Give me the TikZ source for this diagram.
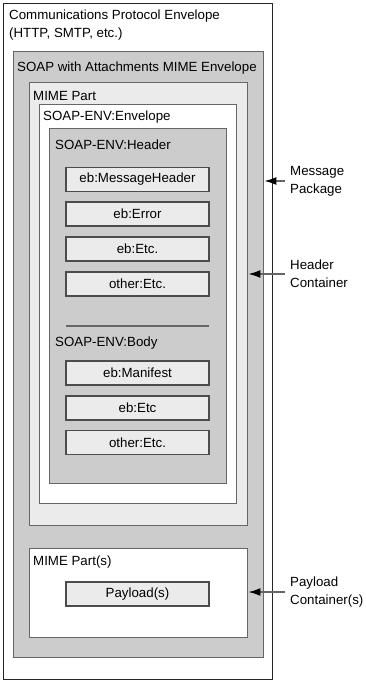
\documentclass[tikz,border=0pt]{standalone}
\usepackage{fontspec}
\setmainfont{Liberation Sans}
\usetikzlibrary{arrows.meta, positioning}

\definecolor{boxgray}{HTML}{CCCCCC}
\definecolor{boxlight}{HTML}{EBEBEB}
\definecolor{edgegray}{HTML}{666666}

\tikzset{
  layer/.style={draw=edgegray, line width=1.4pt, inner sep=0pt, anchor=north west},
  item/.style={draw=black!70, fill=boxlight, line width=1.1pt, inner sep=0pt,
    minimum width=143pt, minimum height=24pt},
  tag/.style={inner sep=0pt, anchor=west, align=left},
  pointer/.style={draw=edgegray, line width=1.4pt, -{Latex[length=12pt,width=8pt,black]}}
}

\begin{document}
\begin{tikzpicture}[x=1pt, y=-1pt, font=\fontsize{13.3}{18}\selectfont]
  \useasboundingbox (0,0) rectangle (366,682);
  % nested envelopes
  \node[layer, draw=black!85, fill=white, minimum width=269pt, minimum height=676pt] (comm) at (3,3) {};
  \node[layer, fill=boxgray, minimum width=250pt, minimum height=606pt] (swa) at (13,51) {};
  \node[layer, fill=boxlight, minimum width=218pt, minimum height=443pt] (mime) at (29,82) {};
  \node[layer, fill=white, minimum width=197pt, minimum height=399pt] (env) at (39,104) {};
  \node[layer, fill=boxgray, minimum width=177pt, minimum height=355pt] (hdr) at (49,128) {};
  \node[layer, fill=white, minimum width=218pt, minimum height=89pt] (parts) at (29,548) {};

  \node[tag] (commlbl) at (9,25.5) {Communications Protocol Envelope\\(HTTP, SMTP, etc.)};
  \node[tag] (swalbl) at (17,68.5) {SOAP with Attachments MIME Envelope};
  \node[tag] (mimelbl) at (33,95.5) {MIME Part};
  \node[tag] (envlbl) at (43,117.5) {SOAP-ENV:Envelope};
  \node[tag] (hdrlbl) at (55,144.5) {SOAP-ENV:Header};
  \node[tag] (bodylbl) at (55,343.5) {SOAP-ENV:Body};
  \node[tag] (partslbl) at (33,562.5) {MIME Part(s)};

  % header blocks
  \node[item] (mh) at (137.5,179.5) {eb:MessageHeader};
  \node[item] (err) at (137.5,214) {eb:Error};
  \node[item] (etc1) at (137.5,249) {eb:Etc.};
  \node[item] (oth1) at (137.5,284) {other:Etc.};
  \coordinate (sepl) at (66,326);
  \coordinate (sepr) at (209,326);
  \draw[edgegray, line width=1.6pt] (sepl) -- (sepr);

  % body blocks
  \node[item] (man) at (137.5,373) {eb:Manifest};
  \node[item] (etc2) at (137.5,408) {eb:Etc};
  \node[item] (oth2) at (137.5,442.5) {other:Etc.};

  \node[item] (pay) at (137.5,594) {Payload(s)};

  % callouts
  \node[tag] (msgpkg) at (290,181) {Message\\Package};
  \node[tag] (hdrcont) at (290,274) {Header\\Container};
  \node[tag] (paycont) at (290,592) {Payload\\Container(s)};
  \draw[pointer] ([xshift=-5pt]msgpkg.west) -- (swa.east |- msgpkg.west);
  \draw[pointer] ([xshift=-5pt]hdrcont.west) -- (mime.east |- hdrcont.west);
  \draw[pointer] ([xshift=-5pt]paycont.west) -- (parts.east |- paycont.west);
\end{tikzpicture}
\end{document}
